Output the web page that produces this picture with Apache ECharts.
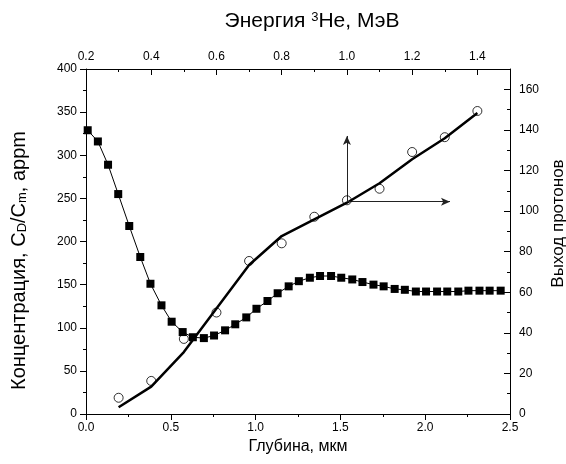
<!DOCTYPE html>
<html>
<head>
<meta charset="utf-8">
<script src="https://cdn.jsdelivr.net/npm/echarts@6/dist/echarts.min.js"></script>
<style>
  html, body { margin: 0; padding: 0; background: #fff; }
  #chart { width: 566px; height: 464px; }
</style>
</head>
<body>
<div id="chart"></div>
<script>
// Deuterium concentration profile versus depth (bottom / left axes)
const depth = [0.01, 0.07, 0.13, 0.19, 0.255, 0.32, 0.38, 0.445, 0.505, 0.57,
               0.63, 0.695, 0.755, 0.82, 0.88, 0.945, 1.005, 1.07, 1.13, 1.195,
               1.255, 1.32, 1.38, 1.445, 1.505, 1.57, 1.63, 1.695, 1.755, 1.82,
               1.88, 1.945, 2.005, 2.07, 2.13, 2.195, 2.255, 2.32, 2.38, 2.445];
const concentration = [329, 316, 289, 255, 218, 182, 151, 126, 107, 95,
                       89, 88, 91, 97, 104, 112, 122, 131, 140, 148,
                       154, 158, 160, 160, 158, 156, 153, 150, 148, 145,
                       144, 142, 142, 142, 142, 142, 143, 143, 143, 143];

// Proton yield versus 3He energy (top / right axes)
const energy = [0.3, 0.4, 0.5, 0.6, 0.7, 0.8, 0.9, 1.0, 1.1, 1.2, 1.3, 1.4];
const yieldMeasured = [8, 16.3, 37, 50, 75.4, 84.1, 97.2, 105.3, 111, 129.1, 136.4, 149.3];
const yieldFit = [3.3, 13.5, 30.5, 52, 73.4, 87.7, 95.9, 104.1, 113.7, 125.5, 135.9, 148.3];

// Axis ticks
const depthTicks = { min: 0, max: 2.5, step: 0.5 };
const concTicks = { min: 0, max: 400, step: 50 };
const energyTicks = { min: 0.2, max: 1.5, step: 0.2, minorStep: 0.1 };
const yieldTicks = { min: 0, max: 170, step: 20, minorStep: 10 };

// Annotation arrows in (energy, yield) coordinates
const arrowOrigin = [1.0, 104.6];
const arrowUpEnd = [1.0, 137];
const arrowRightEnd = [1.316, 104.6];

const FONT = 'Liberation Sans, Arial, sans-serif';
const black = '#000';
const axisLine = { show: true, onZero: false, lineStyle: { color: black, width: 1 } };
const noLine = { show: false, onZero: false };
const label = (margin, extra) => Object.assign({
  color: black, fontFamily: FONT, fontSize: 12, margin: margin
}, extra || {});

const chart = echarts.init(document.getElementById('chart'), null, { renderer: 'canvas' });

chart.setOption({
  animation: false,
  backgroundColor: '#fff',
  grid: { left: 86, right: 56, top: 69, bottom: 50, containLabel: false, outerBoundsMode: 'none' },
  xAxis: [
    {
      type: 'value', position: 'bottom',
      min: depthTicks.min, max: depthTicks.max, interval: depthTicks.step,
      axisLine: axisLine,
      axisTick: { show: true, inside: false, length: 6, lineStyle: { color: black } },
      minorTick: { show: true, splitNumber: 2, length: 3, lineStyle: { color: black } },
      splitLine: { show: false },
      axisLabel: label(8, { formatter: v => v.toFixed(1) }),
      name: 'Глубина, мкм', nameLocation: 'middle', nameGap: 22,
      nameTextStyle: { color: black, fontFamily: FONT, fontSize: 16 }
    },
    {
      type: 'value', position: 'top',
      min: energyTicks.min, max: energyTicks.max, interval: energyTicks.step,
      axisLine: axisLine,
      axisTick: { show: true, inside: true, length: 6, lineStyle: { color: black } },
      splitLine: { show: false },
      axisLabel: label(6, { formatter: v => v.toFixed(1), showMaxLabel: false }),
      name: 'Энергия {sup|3}He, МэВ', nameLocation: 'middle', nameGap: 37,
      nameTextStyle: {
        color: black, fontFamily: FONT, fontSize: 21, padding: [0, 0, 0, 28],
        rich: { sup: { fontFamily: FONT, fontSize: 13, color: black, verticalAlign: 'top', lineHeight: 12 } }
      }
    },
    {
      type: 'value', position: 'top',
      min: energyTicks.min, max: energyTicks.max, interval: energyTicks.minorStep,
      axisLine: noLine,
      axisTick: { show: true, inside: true, length: 3, lineStyle: { color: black } },
      splitLine: { show: false },
      axisLabel: { show: false }
    }
  ],
  yAxis: [
    {
      type: 'value', position: 'left',
      min: concTicks.min, max: concTicks.max, interval: concTicks.step,
      axisLine: axisLine,
      axisTick: { show: true, inside: false, length: 6, lineStyle: { color: black } },
      minorTick: { show: true, splitNumber: 2, length: 3, lineStyle: { color: black } },
      splitLine: { show: false },
      axisLabel: label(9),
      name: 'Концентрация, C{sub|D}/C{sub|m}, appm', nameLocation: 'middle', nameGap: 57,
      nameTextStyle: {
        color: black, fontFamily: FONT, fontSize: 20, padding: [0, 38, 0, 0],
        rich: { sub: { fontFamily: FONT, fontSize: 13, color: black, verticalAlign: 'bottom', lineHeight: 12 } }
      }
    },
    {
      type: 'value', position: 'right',
      min: yieldTicks.min, max: yieldTicks.max, interval: yieldTicks.step,
      axisLine: axisLine,
      axisTick: { show: true, inside: true, length: 6, lineStyle: { color: black } },
      splitLine: { show: false },
      axisLabel: label(9, { showMaxLabel: false }),
      name: 'Выход протонов', nameLocation: 'middle', nameGap: 36,
      nameTextStyle: { color: black, fontFamily: FONT, fontSize: 17, padding: [0, 0, 0, 36] }
    },
    {
      type: 'value', position: 'right',
      min: yieldTicks.min, max: yieldTicks.max, interval: yieldTicks.minorStep,
      axisLine: noLine,
      axisTick: { show: true, inside: true, length: 3, lineStyle: { color: black } },
      splitLine: { show: false },
      axisLabel: { show: false }
    }
  ],
  series: [
    {
      name: 'concentration', type: 'line',
      xAxisIndex: 0, yAxisIndex: 0,
      data: depth.map((d, i) => [d, concentration[i]]),
      symbol: 'rect', symbolSize: 8,
      itemStyle: { color: black },
      lineStyle: { color: black, width: 1 },
      clip: false, z: 3
    },
    {
      name: 'fit', type: 'line',
      xAxisIndex: 1, yAxisIndex: 1,
      data: energy.map((e, i) => [e, yieldFit[i]]),
      showSymbol: false, symbol: 'none',
      lineStyle: { color: black, width: 2.5 },
      z: 4,
      markLine: {
        silent: true,
        symbol: ['none', 'arrow'],
        symbolSize: [6, 9],
        label: { show: false },
        lineStyle: { color: '#222', width: 1, type: 'solid' },
        data: [
          [{ coord: arrowOrigin }, { coord: arrowUpEnd }],
          [{ coord: arrowOrigin }, { coord: arrowRightEnd }]
        ]
      }
    },
    {
      name: 'yield', type: 'scatter',
      xAxisIndex: 1, yAxisIndex: 1,
      data: energy.map((e, i) => [e, yieldMeasured[i]]),
      symbol: 'circle', symbolSize: 9,
      itemStyle: { color: 'rgba(255,255,255,0)', borderColor: black, borderWidth: 1 },
      z: 5
    }
  ]
});
</script>
</body>
</html>
